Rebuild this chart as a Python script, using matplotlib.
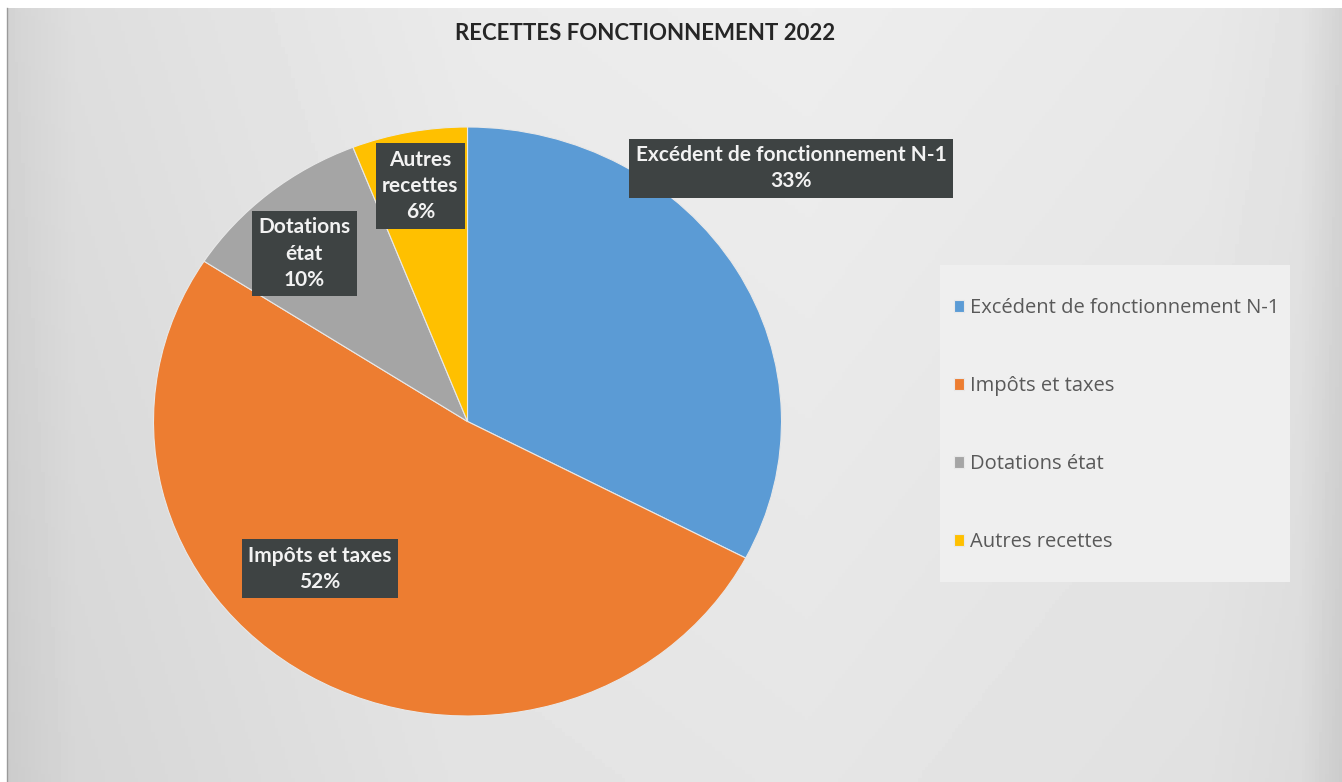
import numpy as np
import matplotlib
matplotlib.use('Agg')
import matplotlib.pyplot as plt
from matplotlib.patches import Rectangle

# recettes de fonctionnement 2022, en % du total
categories = ["Excédent de fonctionnement N-1", "Impôts et taxes",
              "Dotations état", "Autres recettes"]
shares = [33, 52, 10, 6]
short_labels = ["Excédent de fonctionnement N-1", "Impôts et taxes",
                "Dotations\nétat", "Autres\nrecettes"]

colors = ["#5b9bd5", "#ed7d31", "#a5a5a5", "#ffc000"]
# label box centres, in pie units
label_pos = [(1.03, 0.86), (-0.47, -0.50), (-0.52, 0.57), (-0.15, 0.80)]

W, H = 1342, 782
fig = plt.figure(figsize=(W / 100, H / 100), dpi=100, facecolor="white")

# scanned page background: light grey with a soft horizontal shading
bg = fig.add_axes([8 / W, 0, 1 - 8 / W, 1 - 8 / H])
xs = np.linspace(0, 1, 400)
shade = np.interp(xs, [0, 0.05, 0.35, 0.6, 0.9, 0.97, 1.0],
                  [0.83, 0.87, 0.92, 0.93, 0.91, 0.89, 0.83])
ys = np.linspace(0, 1, 200)[:, None]
img = shade[None, :] - 0.03 * (1 - ys)
bg.imshow(img, cmap="gray", vmin=0, vmax=1, aspect="auto",
          extent=[0, 1, 0, 1], origin="lower")
bg.set_axis_off()
fig.add_artist(plt.Line2D([7 / W, 7 / W], [0, 1 - 8 / H], color="#9a9a9a", lw=1))

# pie occupies a slightly squashed ellipse
cx, cy, rx, ry = 467.5, 421.5, 314, 294.5
ax = fig.add_axes([(cx - rx) / W, (H - cy - ry) / H, 2 * rx / W, 2 * ry / H])
wedges, _ = ax.pie(shares, colors=colors, startangle=90, counterclock=False,
                   wedgeprops=dict(edgecolor="#e8e8e8", linewidth=0.8))
ax.set_aspect("auto")
ax.set_xlim(-1, 1)
ax.set_ylim(-1, 1)
ax.set_axis_off()

for txt, val, (x, y) in zip(short_labels, shares, label_pos):
    ax.text(x, y, f"{txt}\n{val}%", ha="center", va="center",
            fontsize=15, fontweight="bold", family="Lato", color="#f2f2f2",
            linespacing=1.4,
            bbox=dict(boxstyle="square,pad=0.3", fc="#3e4343", ec="none"))

fig.text(0.481, 1 - 33 / H, "RECETTES FONCTIONNEMENT 2022", ha="center",
         va="center", fontsize=16, fontweight="bold", family="Lato",
         color="#262626")

# legend on a lighter panel
fig.add_artist(Rectangle((940 / W, 1 - 582 / H), 350 / W, 317 / H,
                         transform=fig.transFigure, fc="#efefef", ec="none",
                         zorder=0.5))
leg = fig.legend(wedges, categories, loc="upper left",
                 bbox_to_anchor=(936 / W, 1 - 280 / H), frameon=False,
                 prop=dict(family="Open Sans", size=14.5),
                 labelcolor="#595959", handlelength=0.5, handleheight=0.5,
                 handletextpad=0.3, labelspacing=2.88)

fig.savefig("out.png", dpi=100, facecolor=fig.get_facecolor())
